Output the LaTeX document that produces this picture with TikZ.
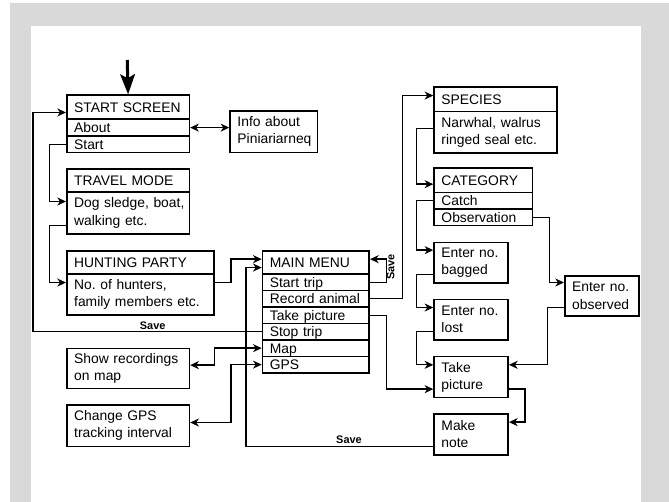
\documentclass[tikz,border=0pt]{standalone}
\usepackage{fontspec}
\setmainfont{Liberation Sans}
\usetikzlibrary{arrows.meta,calc}
\definecolor{framegray}{RGB}{217,217,217}
\frenchspacing
\begin{document}
\begin{tikzpicture}[x=0.75pt,y=-0.75pt,
  bx/.style={draw, line width=1.25pt, anchor=north west, align=left, inner xsep=5.5pt, inner ysep=0pt, font=\fontsize{10.4}{12.9}\selectfont},
  rowbox/.style={bx, text height=7.4pt, text depth=0pt},
  conn/.style={line width=1pt, -{Stealth[length=6.5pt,width=6pt,inset=2pt]}},
  dconn/.style={line width=1pt, {Stealth[length=6.5pt,width=6pt,inset=2pt]}-{Stealth[length=6.5pt,width=6pt,inset=2pt]}},
  initarrow/.style={line width=2.25pt, -{Stealth[length=15pt,width=11pt,inset=3pt]}},
  savelbl/.style={font=\fontsize{8.2}{10}\selectfont\bfseries, inner sep=0pt},
]
\useasboundingbox (0,0) rectangle (669,502);
\fill[framegray] (10,3) rectangle (669,502);
\fill[white] (31,25.7) rectangle (641,502);

% left column
\node[rowbox, text width=80.9pt, minimum height=18pt] (ss) at (66,94.3) {\mbox{START SCREEN}};
\node[rowbox, text width=80.9pt, minimum height=12.75pt] (about) at (66,118.3) {About};
\node[rowbox, text width=80.9pt, minimum height=12.4pt] (start) at (66,135.3) {Start};
\node[bx, text width=54.4pt, minimum height=31.3pt] (info) at (229.3,110) {\mbox{Info about}\\\mbox{Piniariarneq}};
\node[rowbox, text width=80.9pt, minimum height=17.25pt] (tmode) at (66,168) {\mbox{TRAVEL MODE}};
\node[bx, text width=80.9pt, minimum height=31.7pt] (tbody) at (66,191) {\mbox{Dog sledge, boat,}\\\mbox{walking etc.}};
\node[rowbox, text width=99.5pt, minimum height=17.6pt] (hunt) at (66,250) {\mbox{HUNTING PARTY}};
\node[bx, text width=99.5pt, minimum height=30.4pt] (hbody) at (66,273.5) {\mbox{No. of hunters,}\\\mbox{family members etc.}};
\node[bx, text width=80.9pt, minimum height=30pt] (show) at (66,347.7) {\mbox{Show recordings}\\\mbox{on map}};
\node[bx, text width=80.9pt, minimum height=31pt] (gpsint) at (66,404.3) {\mbox{Change GPS}\\\mbox{tracking interval}};

% main menu
\node[rowbox, text width=69pt, minimum height=17.5pt] (mm) at (261.7,250) {\mbox{MAIN MENU}};
\node[rowbox, text width=69pt, minimum height=12.34pt] (r1) at (261.7,273.3) {\mbox{Start trip}};
\node[rowbox, text width=69pt, minimum height=12.34pt] (r2) at (261.7,289.75) {\mbox{Record animal}};
\node[rowbox, text width=69pt, minimum height=12.34pt] (r3) at (261.7,306.2) {\mbox{Take picture}};
\node[rowbox, text width=69pt, minimum height=12.34pt] (r4) at (261.7,322.65) {\mbox{Stop trip}};
\node[rowbox, text width=69pt, minimum height=12.34pt] (r5) at (261.7,339.1) {Map};
\node[rowbox, text width=69pt, minimum height=12.34pt] (r6) at (261.7,355.55) {GPS};

% right column
\node[rowbox, text width=81pt, minimum height=18.5pt] (species) at (433.3,86) {SPECIES};
\node[bx, text width=81pt, minimum height=31pt] (sbody) at (433.3,110.7) {\mbox{Narwhal, walrus}\\\mbox{ringed seal etc.}};
\node[rowbox, text width=62.8pt, minimum height=18.15pt] (cat) at (433.3,167.5) {CATEGORY};
\node[rowbox, text width=62.8pt, minimum height=12.45pt] (catch) at (433.3,191.7) {Catch};
\node[rowbox, text width=62.8pt, minimum height=12.3pt] (obs) at (433.3,208.3) {Observation};
\node[bx, text width=44.5pt, minimum height=30.2pt] (bagged) at (433.3,241.7) {\mbox{Enter no.}\\bagged};
\node[bx, text width=44.5pt, minimum height=30.2pt] (lost) at (433.3,298.7) {\mbox{Enter no.}\\lost};
\node[bx, text width=44.5pt, minimum height=30.75pt] (takepic) at (433.3,355.7) {Take\\picture};
\node[bx, text width=44.5pt, minimum height=30.75pt] (note) at (433.3,413) {Make\\note};
\node[bx, text width=44.5pt, minimum height=30pt] (observed) at (564,275) {\mbox{Enter no.}\\observed};

% labels
\node[savelbl] (save1) at (152.7,325.5) {Save};
\node[savelbl] (save2) at (349,439.5) {Save};
\node[savelbl, rotate=90] (save3) at (390.5,267) {Save};

% connectors
\coordinate (init) at (127.25,60);
\draw[initarrow] (init) -- (ss.north);
\draw[conn] (r4.west) -- ++(-228.7,0) |- ([yshift=-4pt]ss.west);
\draw[dconn] (about.east) -- (about.east -| info.west);
\draw[conn] (start.west) -- ++(-16.7,0) |- ([yshift=8.6pt]tbody.west);
\draw[conn] ([yshift=-9.65pt]tbody.west) -- ++(-16.7,0) |- ([yshift=9.05pt]hbody.west);
\draw[conn] ([yshift=9.05pt]hbody.east) -- ++(16,0) |- ([yshift=2.5pt]mm.west);
\draw[conn] ([yshift=-9.15pt]note.west) -- ++(-187.3,0) |- ([yshift=-3.8pt]mm.west);
\draw[conn] (r1.east) -- ++(16.6,0) |- ([yshift=2.5pt]mm.east);
\draw[conn] (r2.east) -- ++(32.6,0) |- ([yshift=2.7pt]species.west);
\draw[conn] ([yshift=2.75pt]sbody.west) -- ++(-16.6,0) |- ([yshift=-2.8pt]cat.west);
\draw[conn] (catch.west) -- ++(-16.6,0) |- ([yshift=9.4pt]bagged.west);
\draw[conn] ([yshift=-9.1pt]bagged.west) -- ++(-16.6,0) |- ([yshift=9.1pt]lost.west);
\draw[conn] ([yshift=-9.1pt]lost.west) -- ++(-16.6,0) |- ([yshift=9.15pt]takepic.west);
\draw[conn] (obs.east) -- ++(16,0) |- ([yshift=10pt]observed.west);
\draw[conn] ([yshift=-8.8pt]observed.west) -- ++(-16.3,0) |- ([yshift=9.15pt]takepic.east);
\draw[conn] (r3.east) -- ++(16.6,0) |- ([yshift=-9.1pt]takepic.west);
\draw[conn] ([yshift=-9.1pt]takepic.east) -- ++(16,0) |- ([yshift=9.15pt]note.east);
\draw[dconn] ([yshift=2.55pt]show.east) -- ++(24.2,0) |- (r5.west);
\draw[dconn] ([yshift=2.45pt]gpsint.east) -- ++(40.8,0) |- (r6.west);
\end{tikzpicture}
\end{document}
